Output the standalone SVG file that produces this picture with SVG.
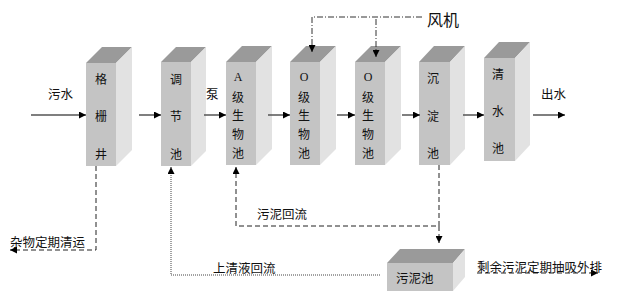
<svg xmlns="http://www.w3.org/2000/svg" width="620" height="303" viewBox="0 0 620 303">
<defs>
<marker id="ah" viewBox="0 0 10 10" refX="10" refY="5" markerWidth="7" markerHeight="7" markerUnits="userSpaceOnUse" orient="auto"><path d="M0,0 L10,5 L0,10 z" fill="#000"/></marker>
<style>
.front{fill:#c4c4c4}
.top{fill:#9a9a9a}
.side{fill:#e2e2e2}
.t{font-family:"Noto Sans CJK SC","Noto Sans",sans-serif;font-size:12px;fill:#111;text-anchor:middle;dominant-baseline:central}
.l{font-family:"Noto Sans CJK SC","Noto Sans",sans-serif;font-size:12.5px;fill:#111;dominant-baseline:central}
.s{font-family:"Liberation Serif",serif;font-size:12px;fill:#111;text-anchor:middle;dominant-baseline:central}
.flow{stroke:#555;stroke-width:1.5;fill:none;marker-end:url(#ah)}
.dash{stroke:#222;stroke-width:1;fill:none;stroke-dasharray:5,3}
.dot{stroke:#444;stroke-width:1;fill:none;stroke-dasharray:1,1}
.dd{stroke:#333;stroke-width:1;fill:none;stroke-dasharray:6,2,1,2}
</style>
</defs>
<g id="geshanjing">
<polygon class="top" points="86,63 102,47 132,47 116,63"/>
<polygon class="side" points="116,63 132,47 132,150 116,166"/>
<rect class="front" x="86" y="63" width="30" height="103"/>
<text class="t" x="101" y="78">格</text><text class="t" x="101" y="115">栅</text><text class="t" x="101" y="153">井</text>
</g>
<g id="tiaojiechi">
<polygon class="top" points="161,62 176,47 206,47 191,62"/>
<polygon class="side" points="191,62 206,47 206,151 191,166"/>
<rect class="front" x="161" y="62" width="30" height="104"/>
<text class="t" x="176" y="78">调</text><text class="t" x="176" y="115">节</text><text class="t" x="176" y="153">池</text>
</g>
<g id="ajichi">
<polygon class="top" points="226,62 242,46 272,46 256,62"/>
<polygon class="side" points="256,62 272,46 272,149 256,165"/>
<rect class="front" x="226" y="62" width="30" height="103"/>
<text class="s" x="238" y="77">A</text><text class="t" x="238" y="96">级</text><text class="t" x="238" y="114">生</text><text class="t" x="238" y="133">物</text><text class="t" x="238" y="152">池</text>
</g>
<g id="ojichi1">
<polygon class="top" points="290,62 306,46 336,46 320,62"/>
<polygon class="side" points="320,62 336,46 336,149 320,165"/>
<rect class="front" x="290" y="62" width="30" height="103"/>
<text class="s" x="304" y="77">O</text><text class="t" x="304" y="96">级</text><text class="t" x="304" y="114">生</text><text class="t" x="304" y="133">物</text><text class="t" x="304" y="152">池</text>
</g>
<g id="ojichi2">
<polygon class="top" points="355,62 371,46 401,46 385,62"/>
<polygon class="side" points="385,62 401,46 401,149 385,165"/>
<rect class="front" x="355" y="62" width="30" height="103"/>
<text class="s" x="368" y="77">O</text><text class="t" x="368" y="96">级</text><text class="t" x="368" y="114">生</text><text class="t" x="368" y="133">物</text><text class="t" x="368" y="152">池</text>
</g>
<g id="chendianchi">
<polygon class="top" points="419,62 434,46 465,46 450,62"/>
<polygon class="side" points="450,62 465,46 465,149 450,165"/>
<rect class="front" x="419" y="62" width="31" height="103"/>
<text class="t" x="433" y="77">沉</text><text class="t" x="433" y="115">淀</text><text class="t" x="433" y="152">池</text>
</g>
<g id="qingshuichi">
<polygon class="top" points="484,58 499,42 530,42 515,58"/>
<polygon class="side" points="515,58 530,42 530,145 515,161"/>
<rect class="front" x="484" y="58" width="31" height="103"/>
<text class="t" x="498" y="73">清</text><text class="t" x="498" y="110">水</text><text class="t" x="498" y="147">池</text>
</g>
<g id="wunichi">
<polygon class="top" points="387,263 400,249 465,249 453,263"/>
<polygon class="side" points="453,263 465,249 465,277 453,291"/>
<rect class="front" x="387" y="263" width="66" height="28"/>
<text class="l" x="396" y="277">污泥池</text>
</g>
<g id="connectors">
<line class="flow" x1="31" y1="115" x2="86" y2="115"/>
<line class="flow" x1="139" y1="115" x2="161" y2="115"/>
<line class="flow" x1="204" y1="115" x2="226" y2="115"/>
<line class="flow" x1="268" y1="115" x2="290" y2="115"/>
<line class="flow" x1="337" y1="115" x2="355" y2="115"/>
<line class="flow" x1="402" y1="115" x2="420" y2="115"/>
<line class="flow" x1="463" y1="115" x2="484" y2="115"/>
<line class="flow" x1="533" y1="115" x2="565" y2="115"/>
<path class="dd" d="M422,17 L312,17 L312,52" marker-end="url(#ah)"/>
<path class="dd" d="M376,19 L376,57" marker-end="url(#ah)"/>
<path class="dash" d="M96,166 L96,250 L10,250" marker-end="url(#ah)"/>
<path class="dot" d="M380,275 L171,275 L171,167" marker-end="url(#ah)"/>
<path class="dash" d="M439,165 L439,226 L236,226 L236,167" marker-end="url(#ah)"/>
<path class="dash" d="M439,226 L439,243" marker-end="url(#ah)"/>
<line class="dash" x1="477" y1="273" x2="598" y2="273" marker-end="url(#ah)"/>
</g>
<g id="labels">
<text class="l" x="48" y="93">污水</text>
<text class="l" x="206" y="93">泵</text>
<text class="l" x="541" y="93">出水</text>
<text class="l" x="427" y="19" style="font-size:16px">风机</text>
<text class="l" x="10" y="241">杂物定期清运</text>
<text class="l" x="257" y="213">污泥回流</text>
<text class="l" x="213" y="267">上清液回流</text>
<text class="l" x="477" y="266">剩余污泥定期抽吸外排</text>
</g>
</svg>
